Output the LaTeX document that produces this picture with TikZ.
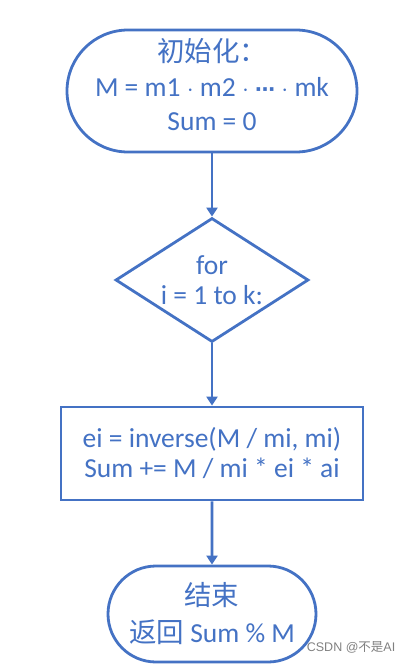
\documentclass[tikz,border=0pt]{standalone}
\usepackage{fontspec}
\setmainfont{Carlito}
\newfontfamily\cjk{Noto Sans CJK SC}
\newfontfamily\symfont{DejaVu Sans}
\newfontfamily\wmfont{Liberation Sans}
\usetikzlibrary{shapes.misc,shapes.geometric,arrows.meta}
\definecolor{flowblue}{HTML}{4472C4}
\begin{document}
\begin{tikzpicture}[x=1pt,y=-1pt,
  every node/.style={draw=flowblue,line width=2.8pt,text=flowblue,align=center,font=\fontsize{27.5}{34.5}\selectfont},
  terminal/.style={rounded rectangle,inner sep=0pt},
  plaintext/.style={draw=none,inner sep=0pt},
  loopbox/.style={diamond,aspect=1.55,inner sep=0pt,minimum width=193pt,minimum height=124pt},
  stepbox/.style={rectangle,minimum width=302pt,minimum height=93pt},
  flow/.style={draw=flowblue,line width=2.8pt,-{Triangle[length=9pt,width=11pt]}}]
\useasboundingbox (0,0) rectangle (413,665);
\node[terminal,minimum width=290pt,minimum height=122pt] (init) at (212,91) {};
\node[plaintext] (initText) at ([yshift=6pt]init.center)
  {{\cjk 初始化：}\\M = m1 $\cdot$ m2 $\cdot$ {\symfont\bfseries\fontsize{20}{20}\selectfont ⋯} $\cdot$ mk\\Sum = 0};
\node[loopbox,font=\fontsize{27.5}{30}\selectfont] (loop) at (212,280) {for\\i = 1 to k:};
\node[stepbox,font=\fontsize{27.5}{30}\selectfont] (step) at (212,453.5)
  {ei = inverse(M / mi, mi)\\Sum += M / mi * ei * ai};
\node[terminal,minimum width=208pt,minimum height=96pt,font=\fontsize{27.5}{37}\selectfont] (done) at (212,614)
  {{\cjk 结束}\\{\cjk 返回} Sum \% M};
\draw[flow] (init) -- (loop);
\draw[flow] (loop) -- (step);
\draw[flow] (step) -- (done);
\node[draw=none,text=gray,font=\wmfont\fontsize{12.5}{14}\selectfont,anchor=south east] (mark) at (400,658)
  {CSDN @{\cjk 不是}AI};
\end{tikzpicture}
\end{document}
